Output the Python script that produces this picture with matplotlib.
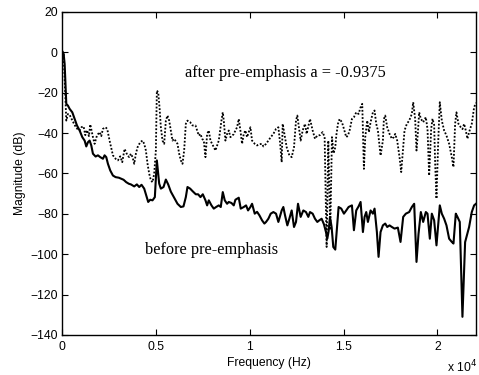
import numpy as np
import matplotlib
matplotlib.use('Agg')
import matplotlib.pyplot as plt
from matplotlib.ticker import FuncFormatter

plt.rcParams['font.family'] = 'Liberation Sans'

# spectrum before pre-emphasis (Hz, dB)
before_f = [0, 89, 142, 230, 319, 408, 550, 674, 798, 940, 1082, 1206, 1294, 1383, 1472,
            1560, 1649, 1791, 1915, 2039, 2181, 2269, 2358, 2447, 2571, 2713, 2855, 3032,
            3156, 3280, 3422, 3564, 3670, 3847, 3989, 4113, 4237, 4379, 4592, 4698, 4822,
            4946, 5053, 5177, 5266, 5408, 5532, 5656, 5798, 5975, 6152, 6330, 6471, 6596,
            6684, 6826, 6950, 7127, 7251, 7376, 7500, 7642, 7730, 7819, 7961, 8085, 8209,
            8351, 8457, 8564, 8670, 8794, 8883, 9025, 9149, 9237, 9415, 9521, 9681, 9805,
            9911, 10035, 10124, 10266, 10390, 10514, 10656, 10780, 10869, 10993, 11117,
            11259, 11400, 11525, 11702, 11790, 11879, 12003, 12110, 12234, 12358, 12464,
            12571, 12712, 12854, 12996, 13120, 13209, 13351, 13475, 13599, 13705, 13829,
            13953, 14060, 14131, 14202, 14273, 14361, 14450, 14556, 14733, 14875, 15017,
            15141, 15265, 15443, 15549, 15673, 15797, 15904, 16028, 16117, 16205, 16294,
            16436, 16560, 16648, 16772, 16861, 16967, 17092, 17216, 17322, 17446, 17570,
            17712, 17889, 18031, 18173, 18315, 18492, 18634, 18758, 18882, 18989, 19113,
            19237, 19379, 19468, 19592, 19698, 19822, 19946, 20123, 20230, 20354, 20478,
            20620, 20762, 20851, 20975, 21063, 21187, 21329, 21471, 21684, 21826, 21950,
            22050]
before_db = [0.8, -0.8, -5.8, -25.5, -26.4, -28, -29.7, -33, -36.2, -38.7, -42, -43.7, -46.6,
             -44.5, -43.7, -46.1, -50.2, -51.6, -51, -51.9, -52.7, -51, -51.9, -55.2, -58.5,
             -61, -61.8, -62.1, -62.6, -63.1, -64.3, -65.1, -65.4, -66.4, -65.4, -66.7, -65.6,
             -67.5, -74.1, -73, -73.3, -71.7, -53.5, -65, -67.5, -66.7, -63, -65.4, -69, -72,
             -75, -76.6, -76.3, -71.7, -66.7, -67.5, -68.7, -70.3, -70.3, -71.7, -70.3, -73.3,
             -75.8, -73.3, -75.8, -77.4, -76.6, -75.8, -76.6, -69.2, -73.3, -75, -74.1, -74.6,
             -75.8, -73, -72, -77.4, -76.6, -75.8, -78.3, -76.6, -75, -79.9, -79, -80.7, -83.2,
             -84.8, -84, -82.4, -79.9, -79.1, -79.9, -84, -78.3, -76.6, -80.7, -85.7, -82.4,
             -78.3, -86.5, -84, -75, -81.5, -78.3, -79.1, -81.5, -79.1, -79.9, -82.4, -84,
             -83.2, -82.4, -85.2, -89, -92.3, -88.6, -81.5, -86.5, -96.4, -97.7, -76.6, -77.4,
             -79.9, -78.3, -76.6, -75.8, -88.1, -78.3, -76.3, -74.1, -89, -81.5, -79.1, -84,
             -78.3, -79.9, -77.4, -89, -101.3, -89, -85.7, -84.8, -86.5, -85.7, -86.5, -87.3,
             -86.8, -93.9, -81.5, -79.9, -79.1, -76.6, -75, -103.8, -90, -79.1, -84, -79.1,
             -79.9, -92.3, -79.9, -83.2, -95.6, -75.8, -79.9, -82.4, -85.7, -92.3, -93.9,
             -94.7, -79.9, -81.5, -84, -131, -94, -86.5, -79.1, -75.8, -75]

# spectrum after pre-emphasis (Hz, dB)
after_f = [0, 89, 230, 319, 408, 514, 621, 763, 940, 1046, 1152, 1241, 1330, 1436, 1507,
           1649, 1737, 1862, 2003, 2092, 2181, 2323, 2411, 2535, 2713, 2855, 2979, 3103,
           3209, 3333, 3493, 3581, 3670, 3759, 3847, 3936, 4025, 4166, 4291, 4379, 4468,
           4557, 4645, 4734, 4823, 4911, 5000, 5053, 5124, 5195, 5266, 5354, 5443, 5532,
           5620, 5709, 5798, 5886, 5975, 6152, 6241, 6330, 6418, 6507, 6596, 6684, 6826,
           6950, 7110, 7198, 7287, 7376, 7464, 7553, 7642, 7730, 7819, 7908, 8085, 8174,
           8262, 8351, 8493, 8564, 8617, 8705, 8794, 8883, 8971, 9149, 9237, 9326, 9415,
           9503, 9592, 9681, 9769, 9858, 10035, 10124, 10266, 10390, 10514, 10656, 10727,
           10869, 10993, 11117, 11259, 11400, 11525, 11613, 11702, 11755, 11968, 12110,
           12234, 12358, 12464, 12535, 12641, 12712, 12819, 12943, 13032, 13209, 13351,
           13475, 13599, 13741, 13882, 13989, 14095, 14184, 14290, 14379, 14468, 14556,
           14610, 14698, 14787, 14911, 15017, 15141, 15230, 15318, 15443, 15549, 15673,
           15797, 15904, 15992, 16081, 16152, 16258, 16347, 16436, 16560, 16648, 16737,
           16826, 16967, 17092, 17145, 17216, 17322, 17446, 17570, 17677, 17748, 17854,
           17978, 18067, 18244, 18368, 18492, 18634, 18705, 18811, 18882, 18953, 19024,
           19113, 19237, 19379, 19468, 19556, 19663, 19734, 19822, 19876, 19946, 20035,
           20123, 20230, 20354, 20478, 20620, 20762, 20851, 20939, 21010, 21116, 21240,
           21329, 21418, 21507, 21595, 21684, 21826, 21950, 22050]
after_db = [0.8, -1, -33.8, -30.5, -31, -33, -35, -37.5, -38.7, -37, -36.7, -41, -38.5, -41.5,
            -35.7, -42, -45.3, -41.2, -39.5, -41.5, -37.9, -37.1, -38, -43.7, -51, -52.7,
            -53.5, -51.5, -54.4, -47.8, -51.1, -51.9, -50.2, -51.9, -55.2, -50.2, -47, -44.5,
            -43.7, -45.3, -48.6, -55.2, -60.1, -63.4, -64.3, -60.1, -48.6, -18.9, -19.8,
            -27.2, -37.1, -43.7, -45.3, -33.8, -31.3, -33.8, -38.7, -43.7, -42.8, -45.3,
            -50.2, -53.5, -55.2, -48.6, -35.4, -33.8, -34.6, -36.2, -36.2, -38.7, -41.2,
            -40.4, -42.8, -43.7, -51.9, -40.4, -38.7, -43.7, -47, -48.6, -46.1, -43.7, -33.8,
            -29.7, -33.8, -43.7, -40.4, -38.7, -42, -40.5, -38.7, -37.1, -33, -38.7, -45.3,
            -40.4, -38.7, -42, -37.1, -43.7, -45.3, -46.1, -45.5, -45.3, -46.6, -45.3, -43.7,
            -42, -40.4, -37.9, -37.1, -44.5, -54.4, -35.4, -47, -51, -51.9, -47, -33.8, -31.3,
            -38.7, -43.7, -38.7, -35.4, -40.4, -33, -38.7, -42.8, -41.2, -41, -39.5, -42,
            -96.4, -43.7, -88, -42, -50, -47, -41.2, -35.4, -33, -34.6, -37.9, -42, -41.2,
            -38.7, -33, -32.1, -29.7, -30.5, -27.2, -25.5, -57.7, -42, -33.8, -39.5, -34.6,
            -29.7, -28.8, -35.4, -38.7, -51.1, -43.7, -33, -31.3, -37.1, -40.4, -42.8, -42,
            -40.4, -43.7, -51.9, -59.3, -38.7, -35.4, -33.8, -30.5, -24.7, -33, -48.6, -40,
            -29.7, -32.9, -34.6, -32.1, -38, -61, -38, -32.9, -36, -55.2, -72.5, -45, -24.7,
            -33.8, -38.7, -41.2, -45.3, -51.9, -56.8, -35.4, -29.7, -35.4, -37.1, -38, -35.4,
            -38.7, -42.8, -39.5, -35.4, -27.2, -25]

x_ticks = [0, 5000, 10000, 15000, 20000]
y_ticks = [-140, -120, -100, -80, -60, -40, -20, 0, 20]

fig = plt.figure(figsize=(4.79, 3.75), dpi=100)
ax = fig.add_axes([0.1294, 0.1067, 0.8643, 0.8613])

ax.plot(after_f, after_db, color='black', linestyle=(0, (1, 1)), linewidth=1.3)
ax.plot(before_f, before_db, color='black', linestyle='-', linewidth=1.5)

ax.set_xlim(0, 22050)
ax.set_ylim(-140, 20)
ax.set_xticks(x_ticks)
ax.set_yticks(y_ticks)
ax.xaxis.set_major_formatter(FuncFormatter(lambda v, p: '%g' % (v / 1e4)))
ax.tick_params(direction='in', top=True, right=True, length=4, labelsize=8.7, pad=3)
ax.tick_params(axis='x', pad=4)
for s in ax.spines.values():
    s.set_linewidth(1.0)

ax.set_xlabel('Frequency (Hz)', fontsize=8.7, labelpad=3)
ax.set_ylabel('Magnitude (dB)', fontsize=8.7, labelpad=3)
fig.text(0.934, 0.0, 'x 10$^4$', fontsize=8.7, ha='left', va='bottom')

ax.text(6578, -10, 'after pre-emphasis a = -0.9375', family='Liberation Serif',
        fontsize=11.8, va='center')
ax.text(4397, -98, 'before pre-emphasis', family='Liberation Serif',
        fontsize=11.8, va='center')

fig.savefig('out.png', dpi=100)
